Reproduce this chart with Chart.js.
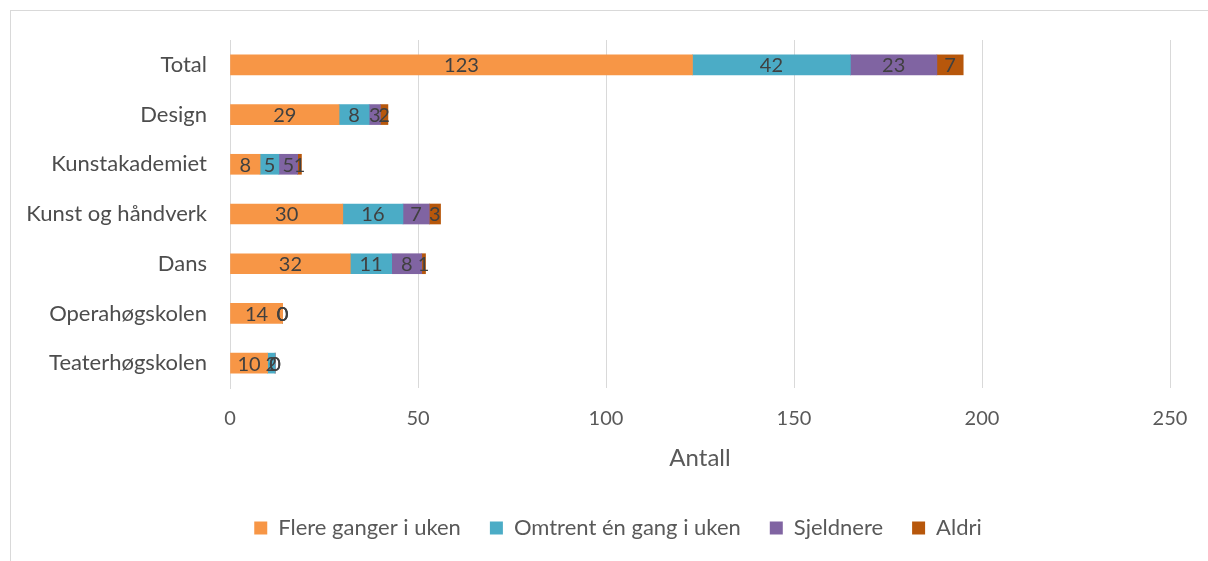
<!DOCTYPE html>
<html>
<head>
<meta charset="utf-8">
<script src="https://cdn.jsdelivr.net/npm/chart.js@4"></script>
<style>
  html, body { margin: 0; padding: 0; background: #fff; }
  #wrap { position: relative; width: 1208px; height: 561px; overflow: hidden; }
  #frame { position: absolute; left: 10px; top: 10px; width: 1300px; height: 700px; border: 1px solid #d9d9d9; }
  canvas { position: absolute; left: 0; top: 0; }
</style>
</head>
<body>
<div id="wrap">
  <div id="frame"></div>
  <canvas id="chart" width="1208" height="561"></canvas>
</div>
<script>
// categories and series
const categories = ['Total', 'Design', 'Kunstakademiet', 'Kunst og håndverk', 'Dans', 'Operahøgskolen', 'Teaterhøgskolen'];
const flereGanger = [123, 29, 8, 30, 32, 14, 10];
const omtrentEn = [42, 8, 5, 16, 11, 0, 2];
const sjeldnere = [23, 3, 5, 7, 8, 0, 0];
const aldri = [7, 2, 1, 3, 1, 0, 0];
const xTicks = [0, 50, 100, 150, 200, 250];

const FONT = 'Lato, "Open Sans", sans-serif';

// draw the value of every segment in its middle
const valueLabels = {
  id: 'valueLabels',
  afterDatasetsDraw(chart) {
    const ctx = chart.ctx;
    ctx.save();
    ctx.font = '20px ' + FONT;
    ctx.fillStyle = '#404040';
    ctx.textAlign = 'center';
    ctx.textBaseline = 'middle';
    chart.data.datasets.forEach((ds, i) => {
      chart.getDatasetMeta(i).data.forEach((bar, j) => {
        ctx.fillText(String(ds.data[j]), (bar.x + bar.base) / 2, bar.y + 1);
      });
    });
    ctx.restore();
  }
};

// legend in the reference sits a bit right of the canvas centre
const legendShift = {
  id: 'legendShift',
  afterLayout(chart) {
    chart.legend.left += 66;
  }
};

new Chart(document.getElementById('chart'), {
  type: 'bar',
  data: {
    labels: categories,
    datasets: [
      { label: 'Flere ganger i uken', data: flereGanger, backgroundColor: '#F79646' },
      { label: 'Omtrent én gang i uken', data: omtrentEn, backgroundColor: '#4BACC6' },
      { label: 'Sjeldnere', data: sjeldnere, backgroundColor: '#8064A2' },
      { label: 'Aldri', data: aldri, backgroundColor: '#B7570B' }
    ]
  },
  options: {
    indexAxis: 'y',
    responsive: false,
    animation: false,
    barThickness: 20,
    layout: { padding: { left: 0, top: 40, right: 38, bottom: 12 } },
    scales: {
      x: {
        stacked: true,
        min: 0,
        max: 250,
        afterBuildTicks: (s) => { s.ticks = xTicks.map(v => ({ value: v })); },
        afterFit: (s) => { s.height = 100; },
        grid: { color: '#d9d9d9', drawTicks: false },
        border: { display: false },
        ticks: { padding: 19, color: '#595959', font: { family: FONT, size: 20 } },
        title: {
          display: true,
          text: 'Antall',
          color: '#595959',
          font: { family: FONT, size: 24 },
          padding: { top: 0, bottom: 15 }
        }
      },
      y: {
        stacked: true,
        afterFit: (s) => { s.width = 230; },
        grid: { display: false, drawTicks: false },
        border: { color: '#d9d9d9' },
        ticks: { padding: 23, color: '#4d4d4d', font: { family: FONT, size: 22 } }
      }
    },
    plugins: {
      legend: {
        position: 'bottom',
        labels: {
          boxWidth: 13,
          boxHeight: 13,
          padding: 29,
          color: '#595959',
          font: { family: FONT, size: 22 }
        }
      },
      tooltip: { enabled: false }
    }
  },
  plugins: [valueLabels, legendShift]
});
</script>
</body>
</html>
